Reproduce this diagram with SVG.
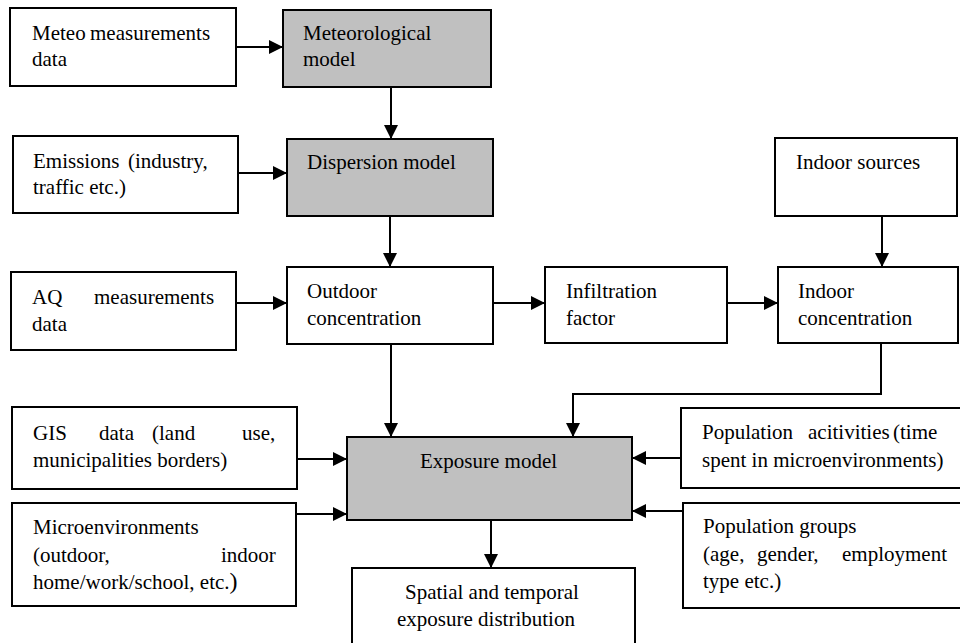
<svg xmlns="http://www.w3.org/2000/svg" width="960" height="643" viewBox="0 0 960 643">
<defs>
<marker id="ah" markerUnits="userSpaceOnUse" markerWidth="14" markerHeight="14" refX="14" refY="7" orient="auto">
<path d="M0,0 L14,7 L0,14 z" fill="#000"/>
</marker>
<style>
.b{fill:#fff;stroke:#000;stroke-width:2}
.g{fill:#c0c0c0;stroke:#000;stroke-width:2}
.t{font-size:21px;fill:#000}
.c{fill:none;stroke:#000;stroke-width:2}
.a{marker-end:url(#ah)}
</style>
</defs>
<rect width="960" height="643" fill="#fff"/>
<g id="meteo-data"><rect class="b" x="10" y="8" width="226" height="78"/>
<text class="t" font-family="'Liberation Serif', 'Times New Roman', Times, 'DejaVu Serif', serif"><tspan x="32" y="40">Meteo</tspan><tspan x="90" y="40">measurements</tspan><tspan x="32" y="66">data</tspan></text></g>
<g id="meteo-model"><rect class="g" x="283" y="10" width="208" height="77"/>
<text class="t" font-family="'Liberation Serif', 'Times New Roman', Times, 'DejaVu Serif', serif"><tspan x="303" y="40">Meteorological</tspan><tspan x="303" y="66">model</tspan></text></g>
<g id="emissions"><rect class="b" x="13" y="136" width="225" height="77"/>
<text class="t" font-family="'Liberation Serif', 'Times New Roman', Times, 'DejaVu Serif', serif"><tspan x="33" y="168">Emissions</tspan><tspan x="128" y="168">(industry,</tspan><tspan x="33" y="194">traffic etc.)</tspan></text></g>
<g id="dispersion"><rect class="g" x="287" y="139" width="206" height="77"/>
<text class="t" font-family="'Liberation Serif', 'Times New Roman', Times, 'DejaVu Serif', serif"><tspan x="307" y="169">Dispersion model</tspan></text></g>
<g id="indoor-sources"><rect class="b" x="775" y="138" width="182" height="78"/>
<text class="t" font-family="'Liberation Serif', 'Times New Roman', Times, 'DejaVu Serif', serif"><tspan x="796" y="169">Indoor sources</tspan></text></g>
<g id="aq"><rect class="b" x="11" y="272" width="225" height="78"/>
<text class="t" font-family="'Liberation Serif', 'Times New Roman', Times, 'DejaVu Serif', serif"><tspan x="32" y="304">AQ</tspan><tspan x="94" y="304">measurements</tspan><tspan x="32" y="331">data</tspan></text></g>
<g id="outdoor"><rect class="b" x="287" y="267" width="206" height="77"/>
<text class="t" font-family="'Liberation Serif', 'Times New Roman', Times, 'DejaVu Serif', serif"><tspan x="307" y="298">Outdoor</tspan><tspan x="307" y="325">concentration</tspan></text></g>
<g id="infiltration"><rect class="b" x="545" y="267" width="182" height="76"/>
<text class="t" font-family="'Liberation Serif', 'Times New Roman', Times, 'DejaVu Serif', serif"><tspan x="566" y="298">Infiltration</tspan><tspan x="566" y="325">factor</tspan></text></g>
<g id="indoor-conc"><rect class="b" x="778" y="267" width="180" height="76"/>
<text class="t" font-family="'Liberation Serif', 'Times New Roman', Times, 'DejaVu Serif', serif"><tspan x="798" y="298">Indoor</tspan><tspan x="798" y="325">concentration</tspan></text></g>
<g id="gis"><rect class="b" x="12" y="407" width="285" height="82"/>
<text class="t" font-family="'Liberation Serif', 'Times New Roman', Times, 'DejaVu Serif', serif"><tspan x="33" y="440">GIS</tspan><tspan x="99" y="440">data</tspan><tspan x="152" y="440">(land</tspan><tspan x="242" y="440">use,</tspan><tspan x="33" y="467">municipalities borders)</tspan></text></g>
<g id="micro"><rect class="b" x="12" y="503" width="284" height="103"/>
<text class="t" font-family="'Liberation Serif', 'Times New Roman', Times, 'DejaVu Serif', serif"><tspan x="33" y="534">Microenvironments</tspan><tspan x="33" y="562">(outdoor,</tspan><tspan x="221" y="562">indoor</tspan><tspan x="33" y="589">home/work/school, etc.</tspan><tspan font-size="24">)</tspan></text></g>
<g id="exposure"><rect class="g" x="347" y="437" width="285" height="83"/>
<text class="t" font-family="'Liberation Serif', 'Times New Roman', Times, 'DejaVu Serif', serif"><tspan x="420" y="468">Exposure model</tspan></text></g>
<g id="pop-act"><rect class="b" x="681" y="408" width="290" height="80"/>
<text class="t" font-family="'Liberation Serif', 'Times New Roman', Times, 'DejaVu Serif', serif"><tspan x="702" y="439">Population</tspan><tspan x="808" y="439">acitivities</tspan><tspan x="893" y="439">(time</tspan><tspan x="702" y="467">spent in microenvironments)</tspan></text></g>
<g id="pop-groups"><rect class="b" x="683" y="503" width="290" height="105"/>
<text class="t" font-family="'Liberation Serif', 'Times New Roman', Times, 'DejaVu Serif', serif"><tspan x="703" y="533">Population groups</tspan><tspan x="703" y="561">(age,</tspan><tspan x="757" y="561">gender,</tspan><tspan x="842" y="561">employment</tspan><tspan x="703" y="588">type etc.)</tspan></text></g>
<g id="outcome"><rect class="b" x="352" y="568" width="283" height="90"/>
<text class="t" font-family="'Liberation Serif', 'Times New Roman', Times, 'DejaVu Serif', serif"><tspan x="405" y="599">Spatial and temporal</tspan><tspan x="397" y="626">exposure distribution</tspan></text></g>
<g id="connectors">
<line class="c a" x1="236" y1="47" x2="283" y2="47"/>
<line class="c a" x1="391" y1="87" x2="391" y2="139"/>
<line class="c a" x1="238" y1="173" x2="287" y2="173"/>
<line class="c a" x1="390" y1="216" x2="390" y2="267"/>
<line class="c a" x1="882" y1="216" x2="882" y2="267"/>
<line class="c a" x1="236" y1="303" x2="287" y2="303"/>
<line class="c a" x1="493" y1="303" x2="545" y2="303"/>
<line class="c a" x1="727" y1="303" x2="778" y2="303"/>
<line class="c a" x1="391" y1="344" x2="391" y2="437"/>
<polyline class="c a" points="881,343 881,394 573,394 573,437"/>
<line class="c a" x1="297" y1="459" x2="347" y2="459"/>
<line class="c a" x1="296" y1="514" x2="347" y2="514"/>
<line class="c a" x1="681" y1="458" x2="632" y2="458"/>
<line class="c a" x1="683" y1="511" x2="632" y2="511"/>
<line class="c a" x1="491" y1="520" x2="491" y2="568"/>
</g>
</svg>
